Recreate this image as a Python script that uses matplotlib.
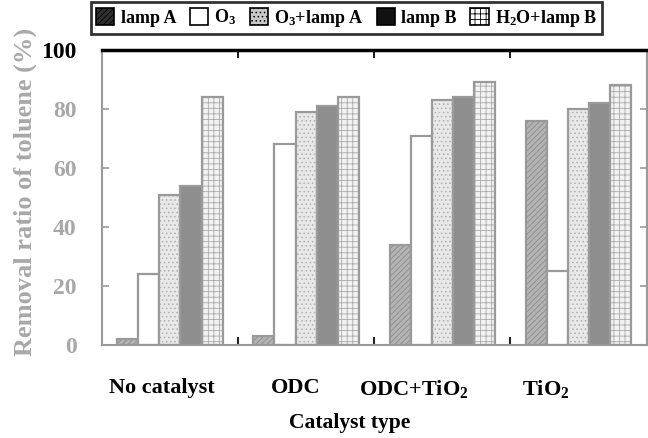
import numpy as np
import matplotlib.pyplot as plt
from matplotlib.patches import Patch

plt.rcParams['font.family'] = ['Liberation Serif', 'DejaVu Serif']
plt.rcParams['font.weight'] = 'bold'
plt.rcParams['mathtext.fontset'] = 'custom'
plt.rcParams['mathtext.rm'] = 'Liberation Serif:bold'
plt.rcParams['mathtext.bf'] = 'Liberation Serif:bold'
plt.rcParams['mathtext.default'] = 'bf'
plt.rcParams['hatch.linewidth'] = 0.6

catalysts = ['No catalyst', 'ODC', 'ODC+TiO$_2$', 'TiO$_2$']
series = ['lamp A', 'O$_3$', 'O$_3$+lamp A', 'lamp B', 'H$_2$O+lamp B']

lamp_a = [2, 3, 34, 76]
o3 = [24, 68, 71, 25]
o3_lamp_a = [51, 79, 83, 80]
lamp_b = [54, 81, 84, 82]
h2o_lamp_b = [84, 84, 89, 88]
values = [lamp_a, o3, o3_lamp_a, lamp_b, h2o_lamp_b]

edge = '#9a9a9a'
faces = ['#b4b4b4', 'white', '#e8e8e8', '#8e8e8e', '#f2f2f2']
hatches = ['//////', None, '....', None, '+++']
hatch_edges = ['#8a8a8a', edge, '#b0b0b0', edge, '#aaaaaa']

# legend proxies (printed darker in the original)
leg_faces = ['#303030', 'white', '#c8c8c8', '#111111', 'white']
leg_hatch = ['//////', None, '....', None, '+++']

fig = plt.figure(figsize=(6.48, 4.38), dpi=100)
ax = fig.add_axes([0.157, 0.212, 0.841, 0.674])

x = np.arange(len(catalysts))
w = 0.155
for j, vals in enumerate(values):
    pos = x + (j - 2) * w
    ax.bar(pos, vals, w, color=faces[j], edgecolor=hatch_edges[j], hatch=hatches[j], linewidth=0)
    ax.bar(pos, vals, w, color='none', edgecolor=edge, linewidth=1.6)

ax.set_xlim(-0.5, 3.5)
ax.set_ylim(0, 100)

# category labels sit a little left of the bar groups in the original
ax.set_xticks([-0.06, 0.92, 1.79, 2.76])
ax.set_xticklabels(catalysts, fontsize=16, fontweight='bold')
ax.tick_params(axis='x', which='major', length=0, pad=24)
ax.set_xticks([0.5, 1.5, 2.5], minor=True)
ax.tick_params(axis='x', which='minor', direction='in', length=6, width=1.5,
               top=True, bottom=True, color='#222222')

ax.set_yticks(np.arange(0, 101, 20))
ax.tick_params(axis='y', direction='in', length=5, width=1.2, right=True,
               color=edge, labelsize=17, pad=18, labelcolor='#a8a8a8')
for lab in ax.get_yticklabels():
    lab.set_fontweight('bold')
ax.get_yticklabels()[-1].set_color('black')

for s in ['left', 'right', 'bottom']:
    ax.spines[s].set_color(edge)
    ax.spines[s].set_linewidth(1.5)
ax.spines['top'].set_color('black')
ax.spines['top'].set_linewidth(2.5)

ax.set_ylabel('Removal ratio of toluene (%)', fontsize=19, fontweight='bold', color='#a8a8a8')
ax.yaxis.set_label_coords(-0.118, 0.52)
ax.set_xlabel('Catalyst type', fontsize=15.5, fontweight='bold')
ax.xaxis.set_label_coords(0.455, -0.23)

handles = [Patch(facecolor=leg_faces[j], edgecolor='black', hatch=leg_hatch[j], linewidth=1.2)
           for j in range(len(series))]
leg = fig.legend(handles, series, loc='upper left', bbox_to_anchor=(0.14, 0.995),
                 ncol=5, fontsize=13, frameon=True, fancybox=False,
                 handlelength=1.0, handleheight=1.0, handletextpad=0.35,
                 columnspacing=0.75, borderpad=0.3, borderaxespad=0)
leg.get_frame().set_edgecolor('black')
leg.get_frame().set_linewidth(2)
for t in leg.get_texts():
    t.set_fontweight('bold')

fig.savefig('out.png', dpi=100)
